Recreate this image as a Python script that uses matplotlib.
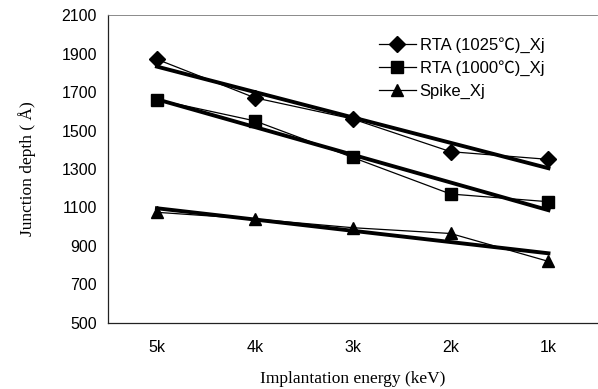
import matplotlib
matplotlib.use("Agg")
import matplotlib.pyplot as plt
import numpy as np

categories = ["5k", "4k", "3k", "2k", "1k"]
rta1025 = [1870, 1670, 1560, 1390, 1350]
rta1000 = [1660, 1550, 1360, 1170, 1130]
spike = [1075, 1040, 995, 965, 820]
labels = ["RTA (1025\u2103)_Xj", "RTA (1000\u2103)_Xj", "Spike_Xj"]
yticks = [500, 700, 900, 1100, 1300, 1500, 1700, 1900, 2100]

sans = ["Liberation Sans", "Noto Sans CJK SC", "DejaVu Sans"]

fig = plt.figure(figsize=(5.98, 3.89), dpi=100)
ax = fig.add_axes([0.1806, 0.1697, 0.8184, 0.7917])

x = np.arange(len(categories))
series = [(rta1025, "D", 8.5), (rta1000, "s", 8), (spike, "^", 9)]
handles = []
for (vals, mk, ms), lab in zip(series, labels):
    h, = ax.plot(x, vals, color="black", lw=0.9, marker=mk, ms=ms,
                 markerfacecolor="black", markeredgecolor="black", label=lab, zorder=3)
    coef = np.polyfit(x, vals, 1)
    ax.plot(x, np.polyval(coef, x), color="black", lw=2.8, zorder=2)
    handles.append(h)

ax.set_xlim(-0.5, 4.5)
ax.set_ylim(500, 2100)
ax.set_yticks(yticks)
ax.set_xticks(x)
ax.set_xticklabels(categories)
ax.tick_params(length=0, labelsize=11.5, pad=8)
for t in ax.get_xticklabels() + ax.get_yticklabels():
    t.set_family(sans)
ax.tick_params(axis="x", pad=12)

for s in ["left", "bottom"]:
    ax.spines[s].set_linewidth(0.9)
    ax.spines[s].set_color("#222222")
ax.spines["top"].set_linestyle((0, (2, 1)))
ax.spines["top"].set_linewidth(0.6)
ax.spines["top"].set_color("#777777")
ax.spines["right"].set_visible(False)

ax.set_xlabel("Implantation energy (keV)", family="Liberation Serif", fontsize=12.5, labelpad=12)
ax.set_ylabel("Junction depth ( \u00c5)", family="Liberation Serif", fontsize=12.5, labelpad=18)

leg = ax.legend(handles=handles, loc="upper left", bbox_to_anchor=(0.54, 0.95),
                frameon=False, prop={"family": sans, "size": 12},
                handlelength=2.2, handletextpad=0.25, labelspacing=0.45, borderaxespad=0)

fig.savefig("out.png", dpi=100)
